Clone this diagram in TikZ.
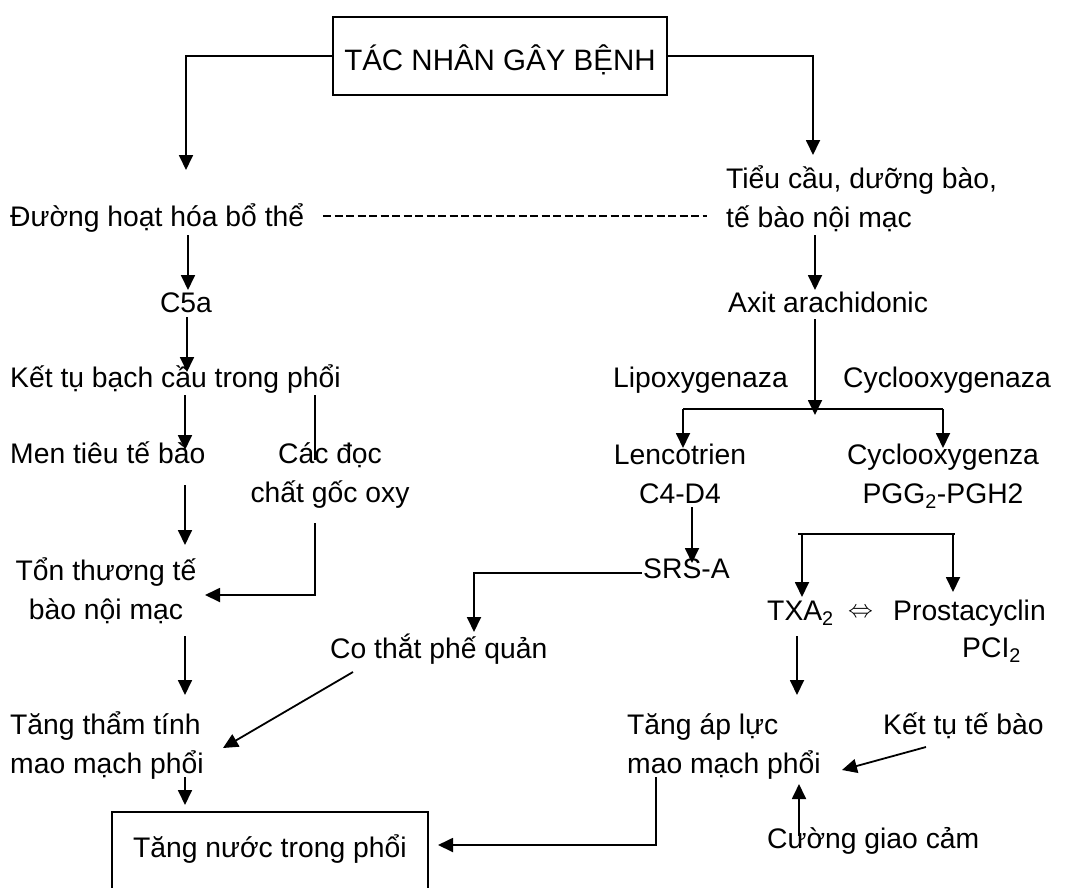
\documentclass[tikz,border=0pt]{standalone}
\usepackage{fontspec}
\setmainfont{Liberation Sans}
\usetikzlibrary{arrows.meta, positioning}

\tikzset{
  lbl/.style={inner sep=0pt, anchor=base west, font=\fontsize{28.3}{39}\selectfont},
  box/.style={draw, line width=1.8pt, inner sep=0pt, font=\fontsize{28.3}{39}\selectfont},
  arr/.style={-{Triangle[length=15pt,width=14pt]}, line width=1.8pt},
  ln/.style={line width=1.8pt},
  hyph/.style={line width=1.4pt, dash pattern=on 8pt off 3.5pt},
}

\begin{document}
\begin{tikzpicture}[x=1pt, y=-1pt]
    \useasboundingbox (0,0) rectangle (1071,887);

    % o tren cung
    \node[box, font=\fontsize{29.5}{39}\selectfont, minimum width=334pt, minimum height=78pt, text height=28pt, text depth=0pt] (tac) at (500,56) {TÁC NHÂN GÂY BỆNH};

    % nhanh trai
    \node[lbl] (dhbt) at (10,226) {Đường hoạt hóa bổ thể};
    \node[lbl, anchor=base] (c5a) at (186,312) {C5a};
    \node[lbl] (ketu) at (10,387) {Kết tụ bạch cầu trong phổi};
    \node[lbl] (men) at (10,463) {Men tiêu tế bào};
    \node[lbl, anchor=base, align=center] (docchat) at (330,502) {Các đọc\\chất gốc oxy};
    \node[lbl, anchor=base, align=center] (tonthuong) at (106,619) {Tổn thương tế\\bào nội mạc};
    \node[lbl] (cothat) at (330,658) {Co thắt phế quản};
    \node[lbl, align=left] (tangtham) at (10,773) {Tăng thẩm tính\\mao mạch phổi};
    \node[box, anchor=north west, minimum width=316pt, text height=46pt, text depth=100pt] (nuoc) at (111,811) {Tăng nước trong phổi};

    % nhanh phai
    \node[lbl, align=left] (tieucau) at (726,227) {Tiểu cầu, dưỡng bào,\\tế bào nội mạc};
    \node[lbl] (axit) at (728,312) {Axit arachidonic};
    \node[lbl] (lipo) at (613,387) {Lipoxygenaza};
    \node[lbl] (cyclo) at (843,387) {Cyclooxygenaza};
    \node[lbl, anchor=base, align=center] (lenco) at (680,503) {Lencotrien\\C4-D4};
    \node[lbl, anchor=base, align=center] (cycloz) at (943,503) {Cyclooxygenza\\PGG\textsubscript{2}-PGH2};
    \node[lbl] (srsa) at (643,578) {SRS-A};
    \node[lbl] (txa) at (767,620) {TXA\textsubscript{2}};
    \node[lbl] (dbl) at (848,617) {$\Leftrightarrow$};
    \node[lbl] (prosta) at (893,620) {Prostacyclin};
    \node[lbl] (pci) at (962,657) {PCI\textsubscript{2}};
    \node[lbl, align=left] (tangap) at (627,773) {Tăng áp lực\\mao mạch phổi};
    \node[lbl] (ketutb) at (883,734) {Kết tụ tế bào};
    \node[lbl] (cuong) at (767,848) {Cường giao cảm};

    % diem dau, diem cuoi cua mui ten
    \coordinate (dhbt-in) at (186,170);
    \coordinate (tieucau-in) at (813,155);
    \coordinate (dash-a) at (323,216);     \coordinate (dash-b) at (707,216);
    \coordinate (dhbt-out) at (188,235);   \coordinate (c5a-in) at (188,290);
    \coordinate (c5a-out) at (187,317);    \coordinate (ketu-in) at (187,372);
    \coordinate (ketu-out) at (185,395);   \coordinate (men-in) at (185,450);
    \coordinate (ketu-oxy) at (315,395);   \coordinate (docchat-in) at (315,460);
    \coordinate (men-out) at (185,485);    \coordinate (ton-in) at (185,545);
    \coordinate (docchat-out) at (315,523); \coordinate (ton-oxy) at (205,595);
    \coordinate (ton-out) at (185,636);    \coordinate (tham-in) at (185,695);
    \coordinate (cothat-out) at (353,672); \coordinate (tham-co) at (223,748);
    \coordinate (tham-out) at (185,777);   \coordinate (nuoc-in) at (185,805);
    \coordinate (tieucau-out) at (815,235); \coordinate (axit-in) at (815,290);
    \coordinate (axit-out) at (815,319);   \coordinate (tach) at (815,415);
    \coordinate (tach-l) at (683,409);     \coordinate (tach-r) at (943,409);
    \coordinate (lenco-in) at (683,448);   \coordinate (cycloz-in) at (943,448);
    \coordinate (lenco-out) at (692,507);  \coordinate (srsa-in) at (692,563);
    \coordinate (srsa-out) at (642,573);   \coordinate (cothat-in) at (474,632);
    \coordinate (ngang-l) at (798,534);    \coordinate (ngang-r) at (955,534);
    \coordinate (txa-in) at (802,597);     \coordinate (prosta-in) at (953,592);
    \coordinate (txa-out) at (797,636);    \coordinate (ap-in) at (797,695);
    \coordinate (ketutb-out) at (926,747); \coordinate (ap-ketu) at (842,770);
    \coordinate (cuong-out) at (799,836);  \coordinate (ap-cuong) at (799,784);
    \coordinate (ap-out) at (656,777);     \coordinate (nuoc-ap) at (438,845);

    \draw[arr] (tac.west) -| (dhbt-in);
    \draw[arr] (tac.east) -| (tieucau-in);
    \draw[hyph] (dash-a) -- (dash-b);

    \draw[arr] (dhbt-out) -- (c5a-in);
    \draw[arr] (c5a-out) -- (ketu-in);
    \draw[arr] (ketu-out) -- (men-in);
    \draw[ln] (ketu-oxy) -- (docchat-in);
    \draw[arr] (men-out) -- (ton-in);
    \draw[arr] (docchat-out) |- (ton-oxy);
    \draw[arr] (ton-out) -- (tham-in);
    \draw[arr] (cothat-out) -- (tham-co);
    \draw[arr] (tham-out) -- (nuoc-in);

    \draw[arr] (tieucau-out) -- (axit-in);
    \draw[arr] (axit-out) -- (tach);
    \draw[ln] (tach-l) -- (tach-r);
    \draw[arr] (tach-l) -- (lenco-in);
    \draw[arr] (tach-r) -- (cycloz-in);
    \draw[arr] (lenco-out) -- (srsa-in);
    \draw[arr] (srsa-out) -| (cothat-in);
    \draw[ln] (ngang-l) -- (ngang-r);
    \draw[arr] (ngang-l -| txa-in) -- (txa-in);
    \draw[arr] (ngang-r -| prosta-in) -- (prosta-in);
    \draw[arr] (txa-out) -- (ap-in);
    \draw[arr] (ketutb-out) -- (ap-ketu);
    \draw[arr] (cuong-out) -- (ap-cuong);
    \draw[arr] (ap-out) |- (nuoc-ap);
\end{tikzpicture}
\end{document}
